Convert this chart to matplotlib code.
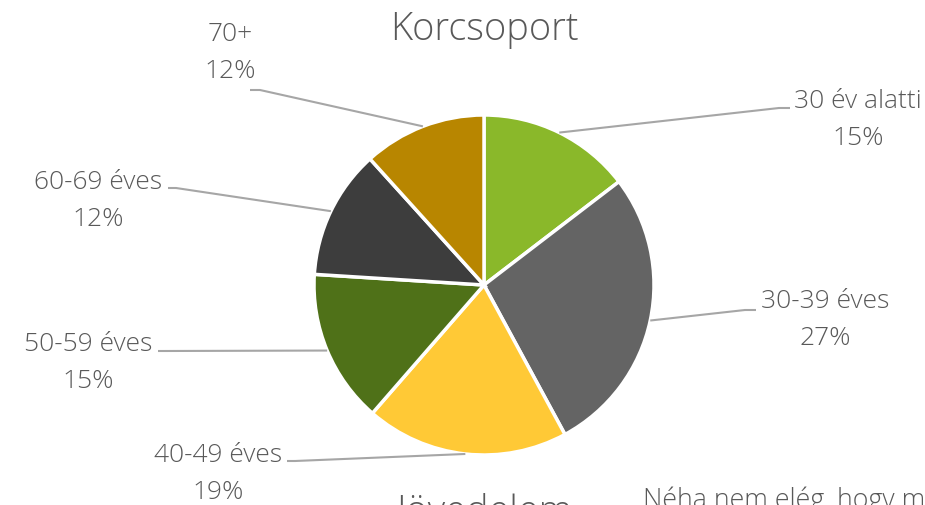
import numpy as np
import matplotlib.pyplot as plt

plt.rcParams["font.family"] = ["Open Sans", "DejaVu Sans"]

# Korcsoport megoszlás (százalék)
categories = ["30 év alatti", "30-39 éves", "40-49 éves", "50-59 éves", "60-69 éves", "70+"]
shares = [14.6, 27.5, 19.3, 14.6, 12.3, 11.7]
pct_labels = ["15%", "27%", "19%", "15%", "12%", "12%"]
colors = ["#8AB82A", "#646464", "#FFC936", "#4F7118", "#3D3D3D", "#B88600"]

W, H = 925, 505
fig = plt.figure(figsize=(W / 100, H / 100), dpi=100)
ax = fig.add_axes([0, 0, 1, 1])

cx, cy, r = 484, H - 285, 170
wedges, _ = ax.pie(
    shares,
    colors=colors,
    startangle=90,
    counterclock=False,
    center=(cx, cy),
    radius=r,
    wedgeprops=dict(edgecolor="white", linewidth=2.5),
    frame=True,
)
ax.set_xlim(0, W)
ax.set_ylim(0, H)
ax.set_aspect("equal")
ax.axis("off")

text_color = "#595959"
line_color = "#A6A6A6"

# label layout (pixel coords from top): elbow, end of leader, text centre
layout = [
    ((779, 108), (790, 108), (858, 120)),
    ((745, 310), (756, 310), (825, 320)),
    ((295, 461), (287, 461), (218, 474)),
    ((165, 351), (158, 351), (88, 363)),
    ((176, 188), (168, 188), (98, 201)),
    ((260, 90), (250, 90), (230, 53)),
]

for w, cat, pct, (elbow, end, txt) in zip(wedges, categories, pct_labels, layout):
    mid = np.deg2rad((w.theta1 + w.theta2) / 2)
    x0 = cx + r * np.cos(mid)
    y0 = cy + r * np.sin(mid)
    ax.plot([x0, elbow[0], end[0]], [y0, H - elbow[1], H - end[1]],
            color=line_color, lw=1.5, solid_capstyle="butt")
    ax.text(txt[0], H - txt[1], f"{cat}\n{pct}", ha="center", va="center",
            multialignment="center", fontsize=19, color=text_color,
            fontweight="light", linespacing=1.6)

ax.text(484, H - 30, "Korcsoport", ha="center", va="center",
        fontsize=27.3, color=text_color, fontweight="light")

# next chart's headings, cut off by the bottom edge
ax.text(484, H - 522, "Jövedelem", ha="center", va="baseline",
        fontsize=27.3, color=text_color, fontweight="light", clip_on=False)
ax.text(643, H - 508, "Néha nem elég, hogy m", ha="left", va="baseline",
        fontsize=19.3, color=text_color, fontweight="light", clip_on=False)

fig.savefig("out.png", dpi=100, facecolor="white")
